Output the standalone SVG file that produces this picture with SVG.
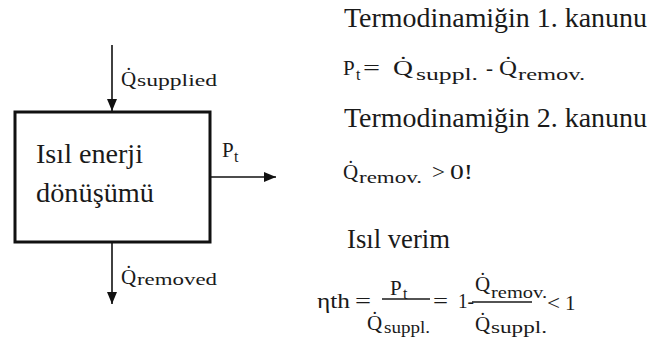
<svg xmlns="http://www.w3.org/2000/svg" width="652" height="342" viewBox="0 0 652 342" font-family="'Liberation Serif', 'Times New Roman', serif">
<defs>
<marker id="ah" markerUnits="userSpaceOnUse" markerWidth="12" markerHeight="12" viewBox="0 0 12 12" refX="12" refY="6" orient="auto"><path d="M0,1 L12,6 L0,11 Z" fill="#111"/></marker>
</defs>
<style>
text{fill:#1a1a1a}
.big{font-size:27px}
.m{font-size:21px}
.s{font-size:16px}
.conn line{stroke:#111;stroke-width:1.6;marker-end:url(#ah)}
.bar{stroke:#1a1a1a;stroke-width:1.3}
</style>
<rect width="652" height="342" fill="#fff"/>
<g id="box">
<rect x="15" y="112" width="195" height="130" fill="none" stroke="#111" stroke-width="3"/>
<text class="big" x="36" y="163" textLength="107" lengthAdjust="spacingAndGlyphs">Isıl enerji</text>
<text class="big" x="36" y="202" textLength="118" lengthAdjust="spacingAndGlyphs">dönüşümü</text>
</g>
<g id="connectors" class="conn">
<line x1="112" y1="45" x2="112" y2="111"/>
<line x1="211" y1="177" x2="276" y2="177"/>
<line x1="112" y1="243" x2="112" y2="304"/>
</g>
<g id="label-supplied"><text class="m" x="121" y="86">Q&#x307;</text><text class="s" x="137" y="86" textLength="80" lengthAdjust="spacingAndGlyphs">supplied</text></g>
<g id="label-removed"><text class="m" x="121" y="284">Q&#x307;</text><text class="s" x="137" y="285" textLength="80" lengthAdjust="spacingAndGlyphs">removed</text></g>
<g id="label-pt"><text class="m" x="222" y="157">P</text><text class="s" x="234" y="162">t</text></g>
<g id="laws">
<text class="big" x="344" y="27" textLength="303" lengthAdjust="spacingAndGlyphs">Termodinamiğin 1. kanunu</text>
<text class="m" x="343" y="75">P</text><text class="s" x="356" y="80">t</text>
<text class="m" x="363" y="75" textLength="17" lengthAdjust="spacingAndGlyphs">=</text>
<text class="m" x="393" y="75" textLength="20" lengthAdjust="spacingAndGlyphs">Q&#x307;</text><text class="s" x="416" y="80" textLength="62" lengthAdjust="spacingAndGlyphs">suppl.</text>
<text class="m" x="486" y="75">-</text>
<text class="m" x="499" y="75" textLength="18" lengthAdjust="spacingAndGlyphs">Q&#x307;</text><text class="s" x="518" y="80" textLength="67" lengthAdjust="spacingAndGlyphs">remov.</text>
<text class="big" x="344" y="127" textLength="303" lengthAdjust="spacingAndGlyphs">Termodinamiğin 2. kanunu</text>
<text class="m" x="343" y="179">Q&#x307;</text><text class="s" x="359" y="183" textLength="63" lengthAdjust="spacingAndGlyphs">remov.</text>
<text class="m" x="432" y="179" textLength="13" lengthAdjust="spacingAndGlyphs">&gt;</text>
<text class="m" x="450" y="179" textLength="23" lengthAdjust="spacingAndGlyphs">0!</text>
<text class="big" x="347" y="248" textLength="103" lengthAdjust="spacingAndGlyphs">Isıl verim</text>
<text class="m" x="317" y="308" textLength="33" lengthAdjust="spacingAndGlyphs">ηth</text>
<text class="m" x="355" y="308" textLength="16" lengthAdjust="spacingAndGlyphs">=</text>
<text class="m" x="390" y="295">P</text><text class="s" x="403" y="299">t</text>
<line class="bar" x1="382" y1="299" x2="430" y2="299"/>
<text class="m" x="367" y="330">Q&#x307;</text><text class="s" x="384" y="333" textLength="46" lengthAdjust="spacingAndGlyphs">suppl.</text>
<text class="m" x="433" y="308" textLength="15" lengthAdjust="spacingAndGlyphs">=</text>
<text class="m" x="458" y="308" textLength="16" lengthAdjust="spacingAndGlyphs">1-</text>
<text class="m" x="475" y="291">Q&#x307;</text><text class="s" x="491" y="298" textLength="56" lengthAdjust="spacingAndGlyphs">remov.</text>
<line class="bar" x1="472" y1="302" x2="532" y2="302"/>
<text class="m" x="475" y="331">Q&#x307;</text><text class="s" x="491" y="333" textLength="56" lengthAdjust="spacingAndGlyphs">suppl.</text>
<text class="m" x="547" y="310" textLength="13" lengthAdjust="spacingAndGlyphs">&lt;</text>
<text class="m" x="565" y="310">1</text>
</g>
</svg>
